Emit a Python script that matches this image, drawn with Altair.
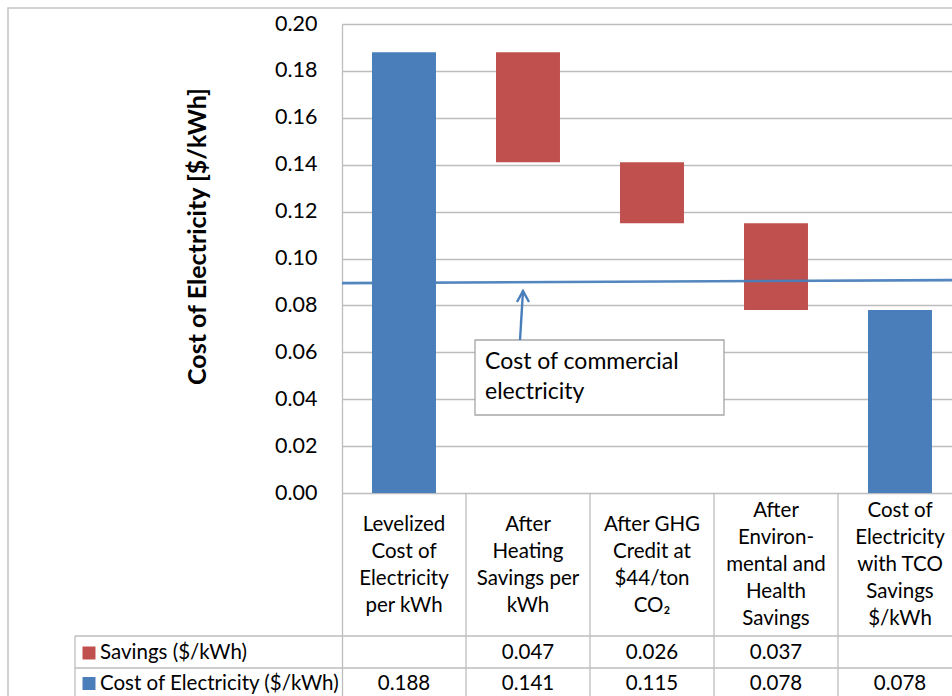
import altair as alt
import pandas as pd

# ---------------- data ----------------
categories = [
    "Levelized\nCost of\nElectricity\nper kWh",
    "After\nHeating\nSavings per\nkWh",
    "After GHG\nCredit at\n$44/ton\nCO\u2082",
    "After\nEnviron-\nmental and\nHealth\nSavings",
    "Cost of\nElectricity\nwith TCO\nSavings\n$/kWh",
]
savings = [None, 0.047, 0.026, 0.037, None]
cost = [0.188, 0.141, 0.115, 0.078, 0.078]
series_names = ["Savings ($/kWh)", "Cost of Electricity ($/kWh)"]
commercial_x = [0, 5]
commercial_y = [0.0895, 0.0908]
y_ticks = [0.0, 0.02, 0.04, 0.06, 0.08, 0.10, 0.12, 0.14, 0.16, 0.18, 0.20]

BLUE = "#4A7EBB"
RED = "#C0504D"
GRID = "#BDBDBD"
FONT = "Lato"
TXT = 20.5

# ---------------- geometry (plot units) ----------------
PXX = 124.0                 # pixels per column
PXY = 2345.0                # pixels per $/kWh
XMAX = 610 / PXX            # visible part of the five columns
YMAX = 0.20
YMIN = -203 / PXY           # data table area below the plot
ROW1 = -143 / PXY           # top of first table data row
ROW2 = -175 / PXY           # top of second table data row
LEFT = -267 / PXX           # left edge of the legend cells
LH = 27.0                   # header line height

XS = alt.Scale(domain=[0, XMAX], nice=False, zero=False)
YS = alt.Scale(domain=[YMIN, YMAX], nice=False, zero=False)
YAX = alt.Axis(
    values=y_ticks, format=".2f", grid=True, gridColor=GRID, gridWidth=1.3,
    domainColor=GRID, domainWidth=1.3, ticks=False, labelPadding=25,
    labelFontSize=21.5, labelColor="black", labelFont=FONT,
    title="Cost of Electricity [$/kWh]", titleFont=FONT, titleFontSize=25,
    titleFontWeight="bold", titleColor="black", titleAngle=270,
    titleX=-145, titleY=212, titleAlign="center", titleBaseline="middle",
)


def X(field):
    return alt.X(field, type="quantitative", scale=XS, axis=None)


def Y(field):
    return alt.Y(field, type="quantitative", scale=YS, axis=YAX)


# bars
rows = []
for i, (s, c) in enumerate(zip(savings, cost)):
    if s is None:
        rows.append({"idx": i, "lo": 0.0, "hi": c, "series": series_names[1]})
    else:
        rows.append({"idx": i, "lo": c, "hi": c + s, "series": series_names[0]})
bars_df = pd.DataFrame(rows)

bars = alt.Chart(bars_df).transform_calculate(
    xa="datum.idx + 0.242", xb="datum.idx + 0.758"
).mark_rect().encode(
    x=X("xa:Q"), x2="xb:Q", y=Y("lo:Q"), y2="hi:Q",
    color=alt.Color("series:N", scale=alt.Scale(domain=series_names, range=[RED, BLUE]), legend=None),
)

# outer frame of the chart
frame = alt.Chart(pd.DataFrame({"a": [0]})).transform_calculate(
    x1=str(-334 / PXX), x2="6", y1=str(0.2 + 16 / PXY), y2="-0.2"
).mark_rect(fillOpacity=0, stroke="#C4C4C4", strokeWidth=1.5).encode(
    x=X("x1:Q"), x2="x2:Q", y=Y("y1:Q"), y2="y2:Q"
)

# table lines
hl = pd.DataFrame({"y": [ROW1, ROW2], "xa": [LEFT, LEFT], "xb": [6, 6]})
hlines = alt.Chart(hl).mark_rule(color=GRID, strokeWidth=1.3).encode(
    x=X("xa:Q"), x2="xb:Q", y=Y("y:Q")
)
vl = pd.DataFrame({"x": [1, 2, 3, 4, 5], "ya": [0] * 5, "yb": [YMIN] * 5})
vl = pd.concat([vl, pd.DataFrame({"x": [LEFT], "ya": [ROW1], "yb": [YMIN]})])
vlines = alt.Chart(vl).mark_rule(color=GRID, strokeWidth=1.3).encode(
    x=X("x:Q"), y=Y("ya:Q"), y2="yb:Q"
)

# header text (first line placed so the block is centred in the header row)
cat_df = pd.DataFrame({
    "idx": list(range(5)),
    "label": categories,
    "n": [len(c.split("\n")) for c in categories],
})
cat_text = alt.Chart(cat_df).transform_calculate(
    xc="datum.idx + 0.5",
    yc=f"({-72.0} + (datum.n - 1) / 2 * {LH}) / {PXY}",
).mark_text(lineBreak="\n", lineHeight=LH, fontSize=TXT, font=FONT, baseline="middle", align="center", color="black").encode(
    x=X("xc:Q"), y=Y("yc:Q"), text="label:N"
)

# table values
vals = []
for i, s in enumerate(savings):
    if s is not None:
        vals.append({"idx": i, "row": 0, "txt": f"{s:.3f}"})
for i, c in enumerate(cost):
    vals.append({"idx": i, "row": 1, "txt": f"{c:.3f}"})
vals_df = pd.DataFrame(vals)
val_text = alt.Chart(vals_df).transform_calculate(
    xc="datum.idx + 0.5",
    yc=f"datum.row == 0 ? {-159.5 / PXY} : {-191 / PXY}",
).mark_text(fontSize=TXT, font=FONT, baseline="middle", align="center", color="black").encode(
    x=X("xc:Q"), y=Y("yc:Q"), text="txt:N"
)

# legend keys in the table
leg_df = pd.DataFrame({"series": series_names, "row": [0, 1]})
leg_keys = alt.Chart(leg_df).transform_calculate(
    xc=str(-253 / PXX), yc=f"datum.row == 0 ? {-160 / PXY} : {-190.5 / PXY}"
).mark_point(shape="square", filled=True, size=169, opacity=1).encode(
    x=X("xc:Q"), y=Y("yc:Q"),
    color=alt.Color("series:N", scale=alt.Scale(domain=series_names, range=[RED, BLUE]), legend=None),
)
leg_text = alt.Chart(leg_df).transform_calculate(
    xc=str(-242 / PXX), yc=f"datum.row == 0 ? {-159.5 / PXY} : {-191 / PXY}"
).mark_text(fontSize=TXT, font=FONT, baseline="middle", align="left", color="black").encode(
    x=X("xc:Q"), y=Y("yc:Q"), text="series:N"
)

# commercial electricity line
com_df = pd.DataFrame({"x": commercial_x, "y": commercial_y})
com_line = alt.Chart(com_df).mark_line(color=BLUE, strokeWidth=2.6, opacity=0.95).encode(
    x=X("x:Q"), y=Y("y:Q")
)

# callout
box = alt.Chart(pd.DataFrame({"a": [0]})).transform_calculate(
    x1=str(133 / PXX), x2=str(382 / PXX), y1=str(153 / PXY), y2=str(78 / PXY)
).mark_rect(fill="white", stroke="#A6A6A6", strokeWidth=1.3).encode(
    x=X("x1:Q"), x2="x2:Q", y=Y("y1:Q"), y2="y2:Q"
)
box_text = alt.Chart(pd.DataFrame({"t": ["Cost of commercial\nelectricity"]})).transform_calculate(
    xc=str(143 / PXX), yc=str(131 / PXY)
).mark_text(lineBreak="\n", lineHeight=30, fontSize=23, font=FONT, align="left", baseline="middle", color="black").encode(
    x=X("xc:Q"), y=Y("yc:Q"), text="t:N"
)
arrow_shaft = alt.Chart(pd.DataFrame({"x": [178 / PXX, 181 / PXX], "y": [153 / PXY, 202 / PXY]})).mark_line(
    color=BLUE, strokeWidth=2.4
).encode(x=X("x:Q"), y=Y("y:Q"))
arrow_head = alt.Chart(pd.DataFrame({
    "x": [175 / PXX, 181 / PXX, 187 / PXX], "y": [191 / PXY, 202 / PXY, 191 / PXY], "o": [0, 1, 2]
})).mark_line(color=BLUE, strokeWidth=2.4).encode(x=X("x:Q"), y=Y("y:Q"), order="o:Q")

chart = alt.layer(
    frame, hlines, vlines, bars, com_line, box, box_text, arrow_shaft, arrow_head,
    cat_text, val_text, leg_keys, leg_text,
).properties(
    width=610, height=672,
    autosize=alt.AutoSizeParams(type="none"),
    padding={"left": 342, "top": 24, "right": 0, "bottom": 0},
    background="white",
).configure_view(stroke=None).configure(font=FONT)

chart.save("out.html", embed_options={"renderer": "svg", "actions": False})
